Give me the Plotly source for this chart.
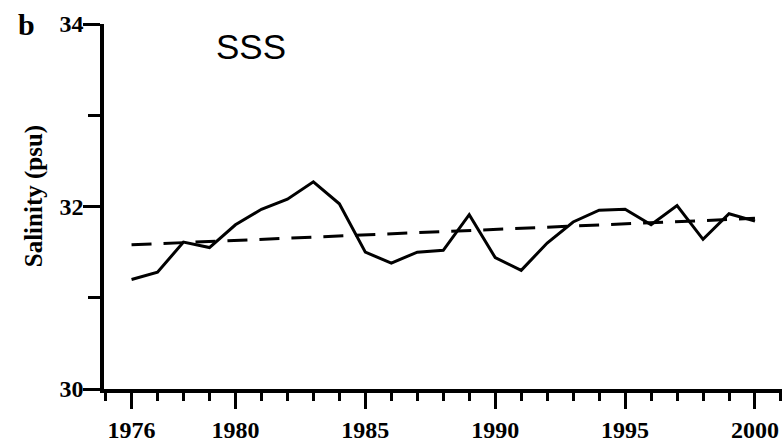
import plotly.graph_objects as go

# Annual mean sea surface salinity (psu)
years = list(range(1976, 2001))
salinity = [31.20, 31.28, 31.61, 31.55, 31.80, 31.97, 32.08, 32.27, 32.03, 31.50,
            31.38, 31.50, 31.52, 31.91, 31.44, 31.30, 31.60, 31.83, 31.96, 31.97,
            31.80, 32.01, 31.64, 31.92, 31.84]

# Linear trend endpoints
trend_years = [1976, 2000]
trend_values = [31.58, 31.87]

# Axis ticks
x_tick_years = [1976, 1980, 1985, 1990, 1995, 2000]
x_minor_years = list(range(1975, 2002))
y_ticks = [30, 32, 34]
y_minor = [31, 33]

W, H = 782, 443
L, R, T, B = 104, 0, 24, 46
PW, PH = W - L - R, H - T - B


def px_to_paper(px, py):
    return (px - L) / PW, (H - B - py) / PH


serif = "Liberation Serif, Times New Roman, serif"
sans = "Liberation Sans, Arial, sans-serif"

fig = go.Figure()
fig.add_trace(go.Scatter(
    x=years, y=salinity, mode="lines",
    line=dict(color="black", width=3),
    showlegend=False,
))
fig.add_trace(go.Scatter(
    x=trend_years, y=trend_values, mode="lines",
    line=dict(color="black", width=3, dash="20px,12px"),
    showlegend=False,
))

axis_common = dict(
    showgrid=False, zeroline=False, showline=True,
    linecolor="black", linewidth=3.5,
    ticks="outside", tickcolor="black", tickwidth=2.5,
    tickfont=dict(family=serif, size=24, color="black", weight="bold"),
)

fig.update_xaxes(
    range=[1974.94, 2001.04],
    tickmode="array", tickvals=x_tick_years,
    ticktext=[str(v) for v in x_tick_years],
    ticklen=16,
    minor=dict(tickmode="array", tickvals=x_minor_years, ticks="outside",
               ticklen=8, tickwidth=2.5, tickcolor="black", showgrid=False),
    **axis_common,
)
fig.update_yaxes(
    range=[30, 34],
    tickmode="array", tickvals=y_ticks,
    ticktext=[str(v) for v in y_ticks],
    ticklen=17,
    ticklabelstandoff=-5,
    minor=dict(tickmode="array", tickvals=y_minor, ticks="outside",
               ticklen=12, tickwidth=2.5, tickcolor="black", showgrid=False),
    **axis_common,
)

annotations = []
x, y = px_to_paper(251, 47)
annotations.append(dict(text="SSS", x=x, y=y, xref="paper", yref="paper",
                        xanchor="center", yanchor="middle", showarrow=False,
                        font=dict(family=sans, size=35, color="black")))
x, y = px_to_paper(26, 25)
annotations.append(dict(text="b", x=x, y=y, xref="paper", yref="paper",
                        xanchor="center", yanchor="middle", showarrow=False,
                        font=dict(family=serif, size=30, color="black", weight="bold")))
x, y = px_to_paper(34, 200)
annotations.append(dict(text="Salinity (psu)", x=x, y=y, xref="paper", yref="paper",
                        xanchor="center", yanchor="middle", showarrow=False,
                        textangle=-90,
                        font=dict(family=serif, size=25, color="black", weight="bold")))

fig.update_layout(
    width=W, height=H,
    margin=dict(l=L, r=R, t=T, b=B, pad=0),
    paper_bgcolor="white", plot_bgcolor="white",
    annotations=annotations,
)

fig.write_html("out.html")
